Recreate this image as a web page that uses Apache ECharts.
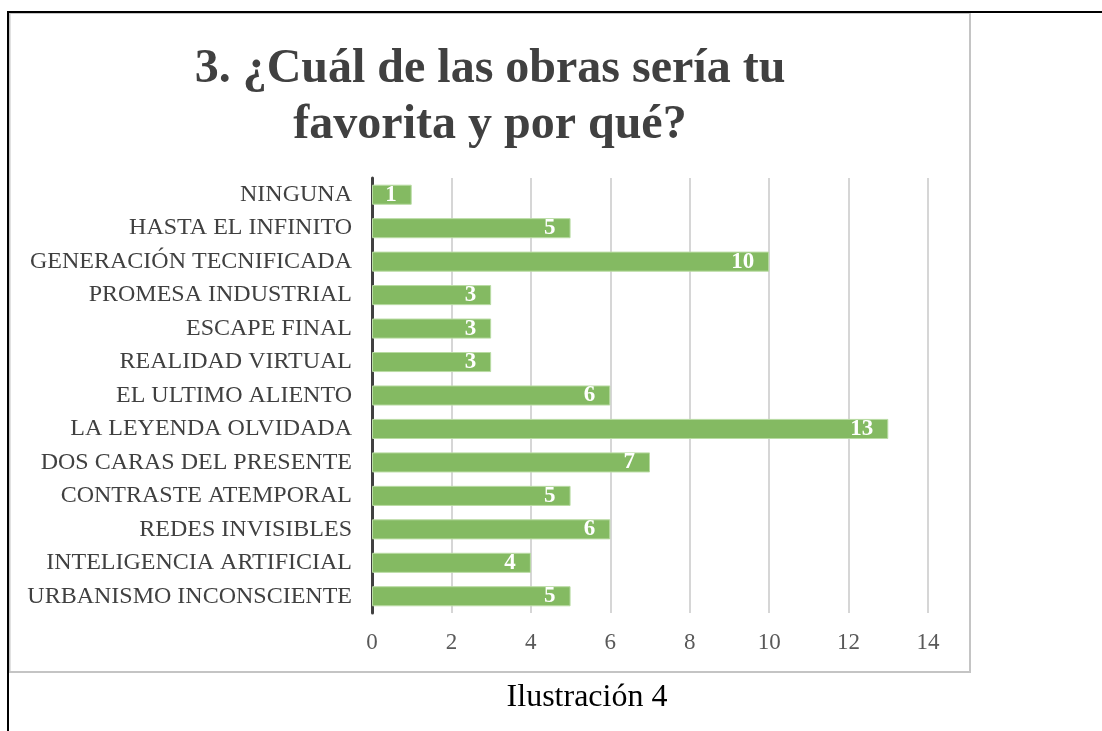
<!DOCTYPE html>
<html>
<head>
<meta charset="utf-8">
<script src="https://cdn.jsdelivr.net/npm/echarts@6/dist/echarts.min.js"></script>
<style>
  html, body { margin: 0; padding: 0; background: #fff; }
  #chart { width: 1102px; height: 731px; }
</style>
</head>
<body>
<div id="chart"></div>
<script>
// Works chosen as favourite, listed top to bottom
const categories = [
  'NINGUNA',
  'HASTA EL INFINITO',
  'GENERACIÓN TECNIFICADA',
  'PROMESA INDUSTRIAL',
  'ESCAPE FINAL',
  'REALIDAD VIRTUAL',
  'EL ULTIMO ALIENTO',
  'LA LEYENDA OLVIDADA',
  'DOS CARAS DEL PRESENTE',
  'CONTRASTE ATEMPORAL',
  'REDES INVISIBLES',
  'INTELIGENCIA ARTIFICIAL',
  'URBANISMO INCONSCIENTE'
];
const votes = [1, 5, 10, 3, 3, 3, 6, 13, 7, 5, 6, 4, 5];
const titleLines = ['3. ¿Cuál de las obras sería tu', 'favorita y por qué?'];
const captionText = 'Ilustración 4';

const serif = '"Liberation Serif", "DejaVu Serif", serif';
const chart = echarts.init(document.getElementById('chart'));

chart.setOption({
  animation: false,
  backgroundColor: '#ffffff',
  title: [
    {
      text: titleLines.join('\n'),
      left: 485, top: 37, textAlign: 'center',
      textStyle: { fontFamily: serif, fontWeight: 'bold', fontSize: 48, lineHeight: 56, color: '#404040' }
    },
    {
      text: captionText,
      left: 582, top: 677, textAlign: 'center',
      textStyle: { fontFamily: serif, fontWeight: 'normal', fontSize: 32, color: '#000000' }
    }
  ],
  graphic: [
    // chart frame
    { type: 'rect', shape: { x: 9.5, y: 13, width: 960.5, height: 659 },
      style: { fill: 'none', stroke: '#c4c4c4', lineWidth: 2 }, z: 0 },
    // page rules
    { type: 'line', shape: { x1: 8, y1: 12, x2: 1102, y2: 12 },
      style: { stroke: '#000000', lineWidth: 2 }, z: 1 },
    { type: 'line', shape: { x1: 8, y1: 11, x2: 8, y2: 731 },
      style: { stroke: '#000000', lineWidth: 2 }, z: 1 }
  ],
  grid: { left: 372, right: 174, top: 178, bottom: 118, containLabel: false },
  xAxis: {
    type: 'value', min: 0, max: 14, interval: 2,
    axisLine: { show: false },
    axisTick: { show: false },
    splitLine: { show: true, lineStyle: { color: '#c8c8c8', width: 1.5 } },
    axisLabel: { fontFamily: serif, fontSize: 23, color: '#595959', margin: 18 }
  },
  yAxis: {
    type: 'category', data: categories, inverse: true,
    axisLine: { show: true, lineStyle: { color: '#404040', width: 3 } },
    axisTick: { show: false },
    axisLabel: { fontFamily: serif, fontSize: 24, color: '#404040', margin: 20 }
  },
  series: [{
    type: 'bar',
    data: votes,
    barWidth: '60%',
    itemStyle: { color: '#84ba62', borderColor: '#b9dba3', borderWidth: 1 },
    label: {
      show: true, position: 'insideRight', distance: 15,
      fontFamily: serif, fontWeight: 'bold', fontSize: 23, color: '#ffffff'
    },
    z: 3
  }]
});
</script>
</body>
</html>
